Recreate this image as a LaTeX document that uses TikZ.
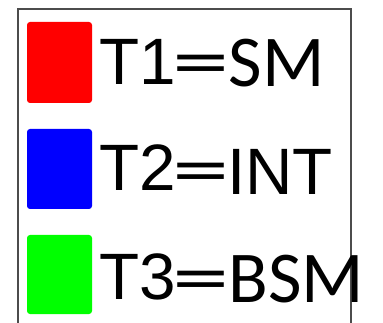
\documentclass[tikz,border=0pt]{standalone}
\usepackage{fontspec}
\setmainfont{Liberation Sans}
\newfontfamily\calib{Carlito}
\newcommand{\wideeq}{\scalebox{1.57}[1]{=}}
\begin{document}
\begin{tikzpicture}[x=1pt,y=-1pt,
  swatch/.style={rounded corners=3pt},
  frameline/.style={draw=black!70, line width=1.5pt},
  tlab/.style={anchor=base west, inner sep=0pt, font=\fontsize{65.6}{70}\selectfont},
  clab/.style={anchor=base west, inner sep=0pt, font=\calib\fontsize{73}{78}\selectfont}]
\useasboundingbox (0,0) rectangle (383,323);
\fill[white] (0,0) rectangle (383,323);
\draw[frameline] (18,330) -- (18,9) -- (351,9) -- (351,330);
\fill[swatch, fill={rgb,255:red,255;green,0;blue,0}] (27,22) rectangle (92,103);
\fill[swatch, fill={rgb,255:red,0;green,0;blue,255}] (27,129) rectangle (92,209);
\fill[swatch, fill={rgb,255:red,0;green,255;blue,0}] (27,235) rectangle (92,314);
\node[tlab] (t1) at (99.6,85) {T1};
\node[clab] (e1) at (172,87) {\wideeq};
\node[clab] (s1) at (228.7,87) {SM};
\node[tlab] (t2) at (99.6,191) {T2};
\node[clab] (e2) at (172,195) {\wideeq};
\node[tlab] (s2) at (227,195) {INT};
\node[tlab] (t3) at (99.6,299) {T3};
\node[clab] (e3) at (172,302) {\wideeq};
\node[clab] (s3) at (228.5,302) {BSM};
\end{tikzpicture}
\end{document}
